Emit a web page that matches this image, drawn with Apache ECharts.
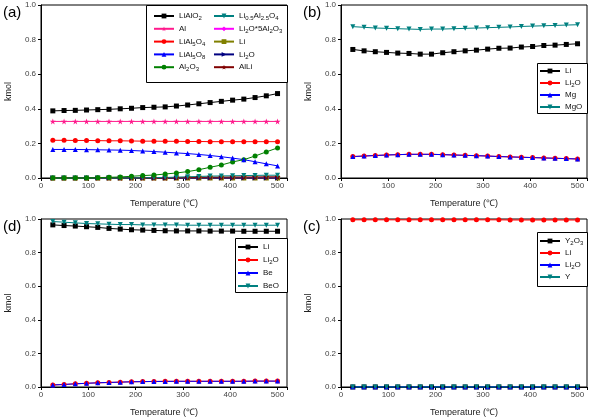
<!DOCTYPE html>
<html>
<head>
<meta charset="utf-8">
<script src="https://cdn.jsdelivr.net/npm/echarts@6/dist/echarts.min.js"></script>
<style>html,body{margin:0;padding:0;background:#fff}#c{width:603px;height:418px}</style>
</head>
<body>
<div id="c"></div>
<script>
// Temperatures (°C)
const temps = [25, 48.75, 72.5, 96.25, 120, 143.75, 167.5, 191.25, 215, 238.75, 262.5, 286.25, 310, 333.75, 357.5, 381.25, 405, 428.75, 452.5, 476.25, 500];
const xTicks = [0, 100, 200, 300, 400, 500];
const yTicks = [0.0, 0.2, 0.4, 0.6, 0.8, 1.0];

// Panel (a)
const a_LiAlO2   = [0.388,0.390,0.391,0.393,0.395,0.397,0.400,0.403,0.407,0.409,0.411,0.416,0.422,0.429,0.436,0.443,0.450,0.456,0.465,0.475,0.488];
const a_Al       = [0.327,0.327,0.327,0.327,0.327,0.327,0.327,0.327,0.327,0.327,0.327,0.327,0.327,0.327,0.327,0.327,0.327,0.327,0.327,0.327,0.327];
const a_LiAl5O4  = [0.218,0.218,0.217,0.217,0.216,0.215,0.215,0.214,0.213,0.213,0.212,0.212,0.211,0.211,0.210,0.210,0.210,0.210,0.210,0.210,0.210];
const a_LiAl5O8  = [0.165,0.165,0.165,0.164,0.163,0.162,0.161,0.159,0.156,0.153,0.149,0.145,0.141,0.136,0.130,0.123,0.115,0.106,0.094,0.082,0.070];
const a_Al2O3    = [0,0,0,0,0.002,0.004,0.006,0.010,0.014,0.017,0.023,0.029,0.037,0.048,0.062,0.075,0.093,0.106,0.127,0.151,0.174];
const a_Li05     = [0,0,0,0,0,0,0,0,0.001,0.002,0.003,0.005,0.007,0.009,0.011,0.012,0.013,0.014,0.015,0.016,0.016];
const a_Li2O5Al  = [0,0,0,0,0,0,0,0,0,0,0,0,0,0,0,0,0,0,0,0,0];
const a_Li       = [0,0,0,0,0,0,0,0,0,0,0,0,0,0,0,0,0,0,0,0,0];
const a_Li2O     = [0,0,0,0,0,0,0,0,0,0,0,0,0,0,0,0,0,0,0,0,0];
const a_AlLi     = [0,0,0,0,0,0,0,0,0,0,0,0.002,0.003,0.004,0.005,0.005,0.006,0.006,0.006,0.007,0.007];

// Panel (b)
const b_Li   = [0.743,0.735,0.730,0.726,0.722,0.720,0.716,0.716,0.724,0.730,0.735,0.739,0.745,0.750,0.751,0.757,0.760,0.766,0.768,0.772,0.776];
const b_Li2O = [0.124,0.127,0.130,0.133,0.135,0.137,0.137,0.137,0.135,0.133,0.131,0.129,0.127,0.124,0.122,0.120,0.118,0.116,0.114,0.112,0.110];
const b_Mg   = [0.124,0.127,0.130,0.133,0.135,0.137,0.137,0.137,0.135,0.133,0.131,0.129,0.127,0.124,0.122,0.120,0.118,0.116,0.114,0.112,0.110];
const b_MgO  = [0.875,0.871,0.867,0.865,0.863,0.861,0.859,0.861,0.861,0.863,0.865,0.867,0.869,0.871,0.873,0.876,0.878,0.880,0.882,0.884,0.886];

// Panel (d)
const d_Li   = [0.965,0.961,0.958,0.954,0.950,0.944,0.940,0.936,0.934,0.932,0.930,0.929,0.929,0.929,0.928,0.928,0.928,0.927,0.927,0.927,0.927];
const d_Li2O = [0.012,0.015,0.019,0.022,0.025,0.027,0.029,0.031,0.032,0.033,0.034,0.034,0.034,0.034,0.034,0.034,0.034,0.034,0.035,0.035,0.035];
const d_Be   = [0.012,0.015,0.019,0.022,0.025,0.027,0.029,0.031,0.032,0.033,0.033,0.034,0.034,0.034,0.034,0.034,0.034,0.034,0.035,0.035,0.035];
const d_BeO  = [0.985,0.981,0.977,0.973,0.971,0.969,0.967,0.967,0.965,0.965,0.965,0.965,0.963,0.963,0.963,0.963,0.963,0.963,0.963,0.963,0.963];

// Panel (c)
const c_Y2O3 = [0,0,0,0,0,0,0,0,0,0,0,0,0,0,0,0,0,0,0,0,0];
const c_Li   = [0.995,0.995,0.995,0.995,0.995,0.995,0.995,0.995,0.995,0.995,0.995,0.995,0.995,0.995,0.994,0.994,0.994,0.994,0.994,0.994,0.994];
const c_Li2O = [0.001,0.001,0.001,0.001,0.001,0.001,0.001,0.001,0.001,0.001,0.001,0.001,0.001,0.001,0.001,0.001,0.001,0.002,0.002,0.002,0.002];
const c_Y    = [0,0,0,0,0,0,0,0,0,0,0,0,0,0,0,0,0,0,0,0,0];

const STAR = 'path://M0,-10L2.35,-3.24L9.51,-3.09L3.8,1.24L5.88,8.09L0,4L-5.88,8.09L-3.8,1.24L-9.51,-3.09L-2.35,-3.24Z';

function pair(arr){ return temps.map((t,i)=>[t, arr[i]]); }

function richName(name){
  let out = '', cur = '', curType = null, prev = '';
  const flush = () => { if (cur) out += '{' + curType + '|' + cur + '}'; cur = ''; };
  for (const ch of name) {
    let t = 'n';
    if (/[0-9.]/.test(ch) && (/[A-Za-z]/.test(prev) || curType === 's')) t = 's';
    if (t !== curType) { flush(); curType = t; }
    cur += ch; prev = ch;
  }
  flush();
  return out;
}

const FONT = 'Liberation Sans';

function S(name, data, color, symbol, g, rot, size){
  return {
    type: 'line', name, data: pair(data), xAxisIndex: g, yAxisIndex: g,
    symbol, symbolSize: size || 5, symbolRotate: rot || 0,
    lineStyle: {color, width: 1}, itemStyle: {color},
    animation: false, clip: false
  };
}

const grids = [
  {left: 41, top: 5, width: 246, height: 173},
  {left: 341, top: 5, width: 246, height: 173},
  {left: 41, top: 219, width: 246, height: 173},
  {left: 341, top: 219, width: 246, height: 173}
];

const xAxes = grids.map((g,i)=>({
  type: 'value', gridIndex: i, min: 0, max: 520, interval: 100,
  name: 'Temperature (\u2103)', nameLocation: 'middle', nameGap: 21,
  nameTextStyle: {fontFamily: FONT, fontSize: 9, color: '#222'},
  axisLine: {lineStyle: {color: '#000', width: 1}},
  axisTick: {length: 3, lineStyle: {color: '#000'}},
  axisLabel: {fontFamily: FONT, fontSize: 8, color: '#444', margin: 4,
    formatter: v => xTicks.includes(v) ? String(v) : ''},
  splitLine: {show: false}
}));
const yAxes = grids.map((g,i)=>({
  type: 'value', gridIndex: i, min: 0, max: 1, interval: 0.2,
  name: 'kmol', nameLocation: 'middle', nameGap: 28,
  nameTextStyle: {fontFamily: FONT, fontSize: 9, color: '#222'},
  axisLine: {lineStyle: {color: '#000', width: 1}},
  axisTick: {length: 3, lineStyle: {color: '#000'}},
  axisLabel: {fontFamily: FONT, fontSize: 8, color: '#444', margin: 5,
    formatter: v => yTicks.some(t=>Math.abs(t-v)<1e-9) ? v.toFixed(1) : ''},
  splitLine: {show: false}
}));

const series = [
  // (a) drawing order (bottom first)
  S('Li2O*5Al2O3', a_Li2O5Al, '#ff00ff', 'diamond', 0),
  S('Li', a_Li, '#808000', 'rect', 0),
  S('Li2O', a_Li2O, '#000080', 'triangle', 0, -90),
  S('AlLi', a_AlLi, '#800000', STAR, 0, 0, 6),
  S('Li0.5Al2.5O4', a_Li05, '#008080', 'triangle', 0, 180),
  S('Al2O3', a_Al2O3, '#008000', 'circle', 0),
  S('LiAl5O8', a_LiAl5O8, '#0000ff', 'triangle', 0),
  S('LiAl5O4', a_LiAl5O4, '#ff0000', 'circle', 0),
  S('Al', a_Al, '#ff1a8c', STAR, 0, 0, 6),
  S('LiAlO2', a_LiAlO2, '#000000', 'rect', 0),
  // (b)
  S('Li', b_Li, '#000000', 'rect', 1),
  S('Li2O', b_Li2O, '#ff0000', 'circle', 1),
  S('Mg', b_Mg, '#0000ff', 'triangle', 1),
  S('MgO', b_MgO, '#008080', 'triangle', 1, 180),
  // (d)
  S('Li', d_Li, '#000000', 'rect', 2),
  S('Li2O', d_Li2O, '#ff0000', 'circle', 2),
  S('Be', d_Be, '#0000ff', 'triangle', 2),
  S('BeO', d_BeO, '#008080', 'triangle', 2, 180),
  // (c)
  S('Y2O3', c_Y2O3, '#000000', 'rect', 3),
  S('Li', c_Li, '#ff0000', 'circle', 3),
  S('Li2O', c_Li2O, '#0000ff', 'triangle', 3),
  S('Y', c_Y, '#008080', 'triangle', 3, 180)
];
const panelOf = [0,0,0,0,0,0,0,0,0,0,1,1,1,1,2,2,2,2,3,3,3,3];
series.forEach((s,i)=>{ s.name = s.name + '\u200B'.repeat(panelOf[i]); });
const strip = n => n.replace(/\u200B/g,'');

const richStyles = {
  n: {fontFamily: FONT, fontSize: 8, color: '#111', lineHeight: 11},
  s: {fontFamily: FONT, fontSize: 6, color: '#111', lineHeight: 7, verticalAlign: 'bottom', padding: [4,0,0,0]}
};
function L(names, panel, left, top, gap){
  return {
    data: names.map(n => n + '\u200B'.repeat(panel)),
    orient: 'vertical', left, top, itemGap: gap, itemWidth: 20, itemHeight: 6,
    padding: 0, selectedMode: false,
    formatter: n => richName(strip(n)),
    textStyle: {rich: richStyles, fontFamily: FONT, fontSize: 8, lineHeight: 11}
  };
}

const legends = [
  L(['LiAlO2','Al','LiAl5O4','LiAl5O8','Al2O3'], 0, 153, 10.5, 1.8),
  L(['Li0.5Al2.5O4','Li2O*5Al2O3','Li','Li2O','AlLi'], 0, 213, 10.5, 1.8),
  L(['Li','Li2O','Mg','MgO'], 1, 539, 65.5, 1),
  L(['Li','Li2O','Be','BeO'], 2, 237, 241.5, 2),
  L(['Y2O3','Li','Li2O','Y'], 3, 539, 235.5, 1)
];

const boxes = [
  [146, 5, 141, 77],
  [537, 63, 50, 50],
  [235, 238, 52, 54],
  [537, 232, 50, 54]
].map(b => ({type: 'rect', shape: {x: b[0]+0.5, y: b[1]+0.5, width: b[2], height: b[3]},
  style: {fill: '#fff', stroke: '#000', lineWidth: 1}, z: 0, zlevel: 0}));

const labels = [['(a)',3,5],['(b)',303,5],['(d)',3,219],['(c)',303,219]].map(l=>({
  type: 'text', left: l[1], top: l[2], style: {text: l[0], font: '15px ' + FONT, fill: '#000'}
}));

const chart = echarts.init(document.getElementById('c'), null, {renderer: 'canvas'});
chart.setOption({
  animation: false,
  backgroundColor: '#fff',
  grid: grids.map(g => Object.assign({show: true, borderColor: '#000', borderWidth: 1, backgroundColor: 'transparent'}, g)),
  xAxis: xAxes, yAxis: yAxes,
  legend: legends,
  graphic: boxes.concat(labels),
  series
});
</script>
</body>
</html>
